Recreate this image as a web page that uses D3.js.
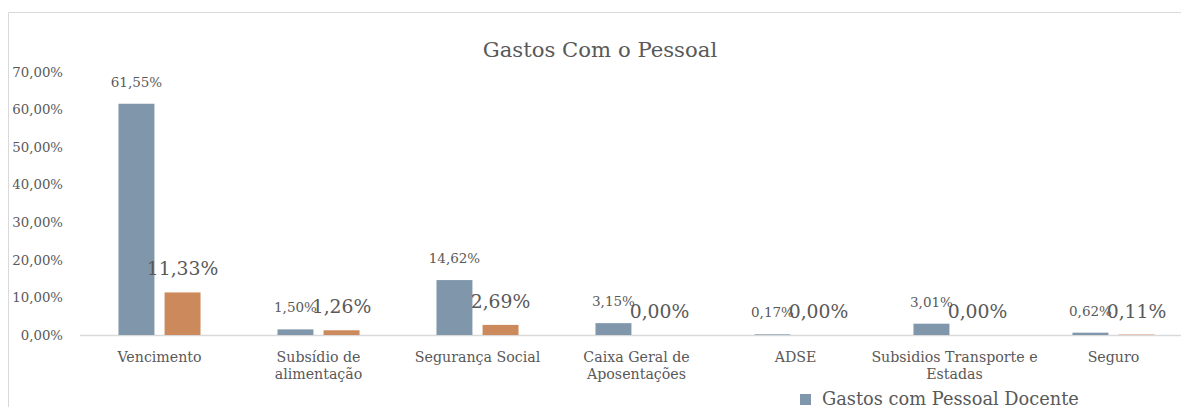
<!DOCTYPE html>
<html>
<head>
<meta charset="utf-8">
<script src="https://cdn.jsdelivr.net/npm/d3@7"></script>
<style>
  body { margin: 0; background: #fff; }
  svg text { font-family: "DejaVu Serif", "Liberation Serif", serif; fill: #595959; }
</style>
</head>
<body>
<svg id="chart" width="1181" height="407"></svg>
<script>
// ---- data ----
var categories = ["Vencimento", "Subsídio de\nalimentação", "Segurança Social", "Caixa Geral de\nAposentações", "ADSE", "Subsidios Transporte e\nEstadas", "Seguro"];
var seriesNames = ["Gastos com Pessoal Docente"];
var docente = [61.55, 1.50, 14.62, 3.15, 0.17, 3.01, 0.62];
var naoDocente = [11.33, 1.26, 2.69, 0.00, 0.00, 0.00, 0.11];
var yTicks = [0, 10, 20, 30, 40, 50, 60, 70];

var colors = ["#7f96ab", "#cc8a5c"];
var fmt = function(v) { return v.toFixed(2).replace(".", ",") + "%"; };

var rows = categories.map(function(c, i) {
  return { cat: c, values: [docente[i], naoDocente[i]] };
});

var svg = d3.select("#chart");

// chart frame (cut off at right and bottom)
svg.append("path")
  .attr("d", "M8.5,420 V12.5 H1200")
  .attr("fill", "none")
  .attr("stroke", "#d9d9d9");

// title
svg.append("text")
  .attr("x", 600)
  .attr("y", 57)
  .attr("text-anchor", "middle")
  .style("font-size", "21.2px")
  .text("Gastos Com o Pessoal");

var x0 = d3.scaleBand()
  .domain(categories)
  .range([80, 80 + 7 * 159])
  .paddingInner(0.484)
  .paddingOuter(0.242);

var x1 = d3.scaleBand()
  .domain([0, 1])
  .range([0, x0.bandwidth()])
  .paddingInner(0.22);

var y = d3.scaleLinear()
  .domain([0, 70])
  .range([335, 72]);

// y axis labels
var yAxis = svg.append("g")
  .attr("transform", "translate(63,0)")
  .call(d3.axisLeft(y).tickValues(yTicks).tickSize(0).tickPadding(0).tickFormat(function(d) { return fmt(d); }));
yAxis.select(".domain").remove();
yAxis.selectAll("text")
  .style("font-size", "13.3px")
  .attr("fill", null);

// baseline
svg.append("line")
  .attr("x1", 80).attr("x2", 1200)
  .attr("y1", y(0) + 0.5).attr("y2", y(0) + 0.5)
  .attr("stroke", "#d9d9d9")
  .attr("stroke-width", 1.5);

// bars
var groups = svg.selectAll(".grp")
  .data(rows)
  .enter().append("g")
  .attr("class", "grp")
  .attr("transform", function(d) { return "translate(" + x0(d.cat) + ",0)"; });

groups.selectAll("rect")
  .data(function(d) { return d.values; })
  .enter().append("rect")
  .attr("x", function(d, i) { return x1(i); })
  .attr("y", function(d) { return y(d); })
  .attr("width", x1.bandwidth())
  .attr("height", function(d) { return y(0) - y(d); })
  .attr("fill", function(d, i) { return colors[i]; });

// value labels (docente small, nao docente large)
groups.selectAll(".lbl")
  .data(function(d) { return d.values; })
  .enter().append("text")
  .attr("class", "lbl")
  .attr("x", function(d, i) { return x1(i) + x1.bandwidth() / 2; })
  .attr("y", function(d) { return y(d) - 17; })
  .attr("text-anchor", "middle")
  .style("font-size", function(d, i) { return i == 0 ? "13.5px" : "18.8px"; })
  .text(function(d) { return fmt(d); });

// category labels
groups.append("text")
  .attr("x", x0.bandwidth() / 2)
  .attr("y", 362)
  .attr("text-anchor", "middle")
  .style("font-size", "14.2px")
  .selectAll("tspan")
  .data(function(d) { return d.cat.split("\n"); })
  .enter().append("tspan")
  .attr("x", x0.bandwidth() / 2)
  .attr("dy", function(d, i) { return i == 0 ? 0 : 16.5; })
  .text(function(d) { return d; });

// legend
var legend = svg.selectAll(".legend")
  .data(seriesNames)
  .enter().append("g")
  .attr("class", "legend")
  .attr("transform", function(d, i) { return "translate(800," + (394 + i * 24) + ")"; });

legend.append("rect")
  .attr("width", 11)
  .attr("height", 11)
  .attr("fill", function(d, i) { return colors[i]; });

legend.append("text")
  .attr("x", 22)
  .attr("y", 11)
  .style("font-size", "17.8px")
  .text(function(d) { return d; });
</script>
</body>
</html>
